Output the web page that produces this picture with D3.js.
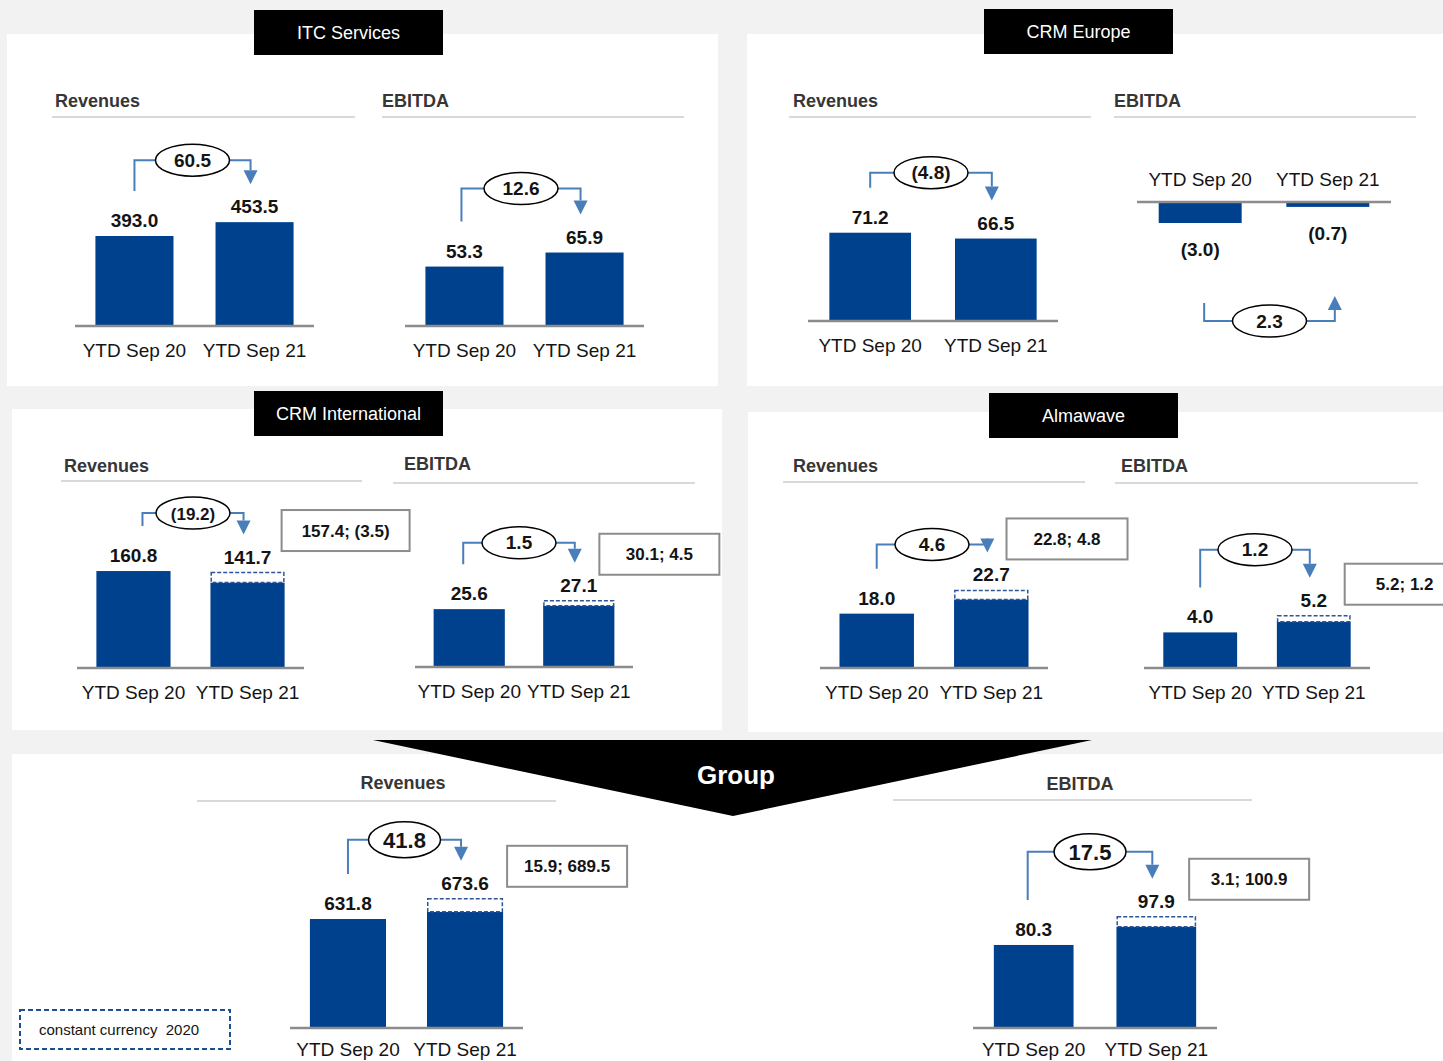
<!DOCTYPE html>
<html>
<head>
<meta charset="utf-8">
<script src="https://cdn.jsdelivr.net/npm/d3@7"></script>
<style>
  html, body { margin: 0; padding: 0; background: #f2f2f2; }
  svg { display: block; font-family: "Liberation Sans", Arial, sans-serif; }
</style>
</head>
<body>
<svg id="chart" width="1443" height="1061"></svg>
<script>
// ---- data ----
const periods = ["YTD Sep 20", "YTD Sep 21"];
const metrics = ["Revenues", "EBITDA"];
const segments = ["ITC Services", "CRM Europe", "CRM International", "Almawave"];
const segmentRevenues = [[393.0, 453.5], [71.2, 66.5], [160.8, 141.7], [18.0, 22.7]];
const segmentEbitda = [[53.3, 65.9], [-3.0, -0.7], [25.6, 27.1], [4.0, 5.2]];
const revenueChange = [60.5, -4.8, -19.2, 4.6];
const ebitdaChange = [12.6, 2.3, 1.5, 1.2];
const revenueConstCurrency = [null, null, [157.4, -3.5], [22.8, 4.8]];
const ebitdaConstCurrency = [null, null, [30.1, 4.5], [5.2, 1.2]];
const groupTitle = "Group";
const groupRevenues = [631.8, 673.6];
const groupEbitda = [80.3, 97.9];
const groupChange = [41.8, 17.5];
const groupConstCurrency = [[15.9, 689.5], [3.1, 100.9]];
const legendLabel = "constant currency  2020";

// ---- layout ----
const W = 1443, H = 1061;
const C = {
  bg: "#f2f2f2", bar: "#00418d", link: "#4a7ebb", axis: "#8c8c8c",
  rule: "#d9d9d9", text: "#141414", head: "#363636", hat: "#2f5597", box: "#8c8c8c"
};
const panels = [
  { x: 7, y: 34, w: 711, h: 352, tab: { x: 254, y: 10, w: 189, h: 45 } },
  { x: 747, y: 34, w: 696, h: 352, tab: { x: 984, y: 9, w: 189, h: 45 } },
  { x: 12, y: 409, w: 710, h: 321, tab: { x: 254, y: 391, w: 189, h: 45 } },
  { x: 748, y: 412, w: 695, h: 320, tab: { x: 989, y: 393, w: 189, h: 45 } }
];
const groupPanel = { x: 12, y: 754, w: 1431, h: 307 };
const groupBanner = { x0: 373, x1: 1092, y: 740, tipX: 733, tipY: 816 };

const layouts = [
  // ITC Services
  { head: { x: 55, y: 107, x0: 52, x1: 355, ry: 117 }, axis: [75, 314, 326], k: 0.229, lift: 62 },
  { head: { x: 382, y: 107, x0: 382, x1: 684, ry: 117 }, axis: [405, 644, 326], k: 1.115, lift: 64, dxL: -3 },
  // CRM Europe
  { head: { x: 793, y: 107, x0: 789, x1: 1091, ry: 117 }, axis: [808, 1058, 321], k: 1.24, lift: 60 },
  { head: { x: 1114, y: 107, x0: 1114, x1: 1416, ry: 117 }, axis: [1137, 1391, 202], k: 7, lift: 98, below: true, dxL: 4 },
  // CRM International
  { head: { x: 64, y: 472, x0: 61, x1: 362, ry: 481 }, axis: [77, 304, 668], k: 0.603, lift: 58, hat: 10,
    dxL: 9, box: { dx: -3, dy: -3, w: 128 } },
  { head: { x: 404, y: 470, x0: 393, x1: 695, ry: 483 }, axis: [415, 633, 667], k: 2.26, lift: 58, hat: 5,
    dxL: -6, box: { dx: -15, dy: -9, w: 120 } },
  // Almawave
  { head: { x: 793, y: 472, x0: 783, x1: 1085, ry: 482 }, axis: [820, 1048, 668], k: 3.02, lift: 46, hat: 9,
    box: { dx: -22, dy: -26, w: 121 } },
  { head: { x: 1121, y: 472, x0: 1115, x1: 1418, ry: 483 }, axis: [1144, 1370, 668], k: 8.9, lift: 66, hat: 6,
    box: { dx: -6, dy: 14, w: 120 } },
  // Group
  { head: { x: 403, y: 789, x0: 197, x1: 556, ry: 801, center: true }, axis: [290, 523, 1028], k: 0.1725, lift: 59,
    hat: 13, box: { dx: 4, dy: 6, w: 120 }, big: true, labelGap: 28 },
  { head: { x: 1080, y: 790, x0: 893, x1: 1252, ry: 800, center: true }, axis: [973, 1217, 1028], k: 1.034, lift: 65,
    hat: 10, dxL: -6, box: { dx: -7, dy: 7, w: 120 }, big: true, labelGap: 28 }
];

// ---- chart list built from the data arrays ----
const charts = [];
segments.forEach((s, i) => {
  charts.push({ title: metrics[0], values: segmentRevenues[i], change: revenueChange[i], note: revenueConstCurrency[i] });
  charts.push({ title: metrics[1], values: segmentEbitda[i], change: ebitdaChange[i], note: ebitdaConstCurrency[i] });
});
charts.push({ title: metrics[0], values: groupRevenues, change: groupChange[0], note: groupConstCurrency[0] });
charts.push({ title: metrics[1], values: groupEbitda, change: groupChange[1], note: groupConstCurrency[1] });

const fmt1 = d3.format(".1f");
const fmt = v => v < 0 ? `(${fmt1(-v)})` : fmt1(v);

const svg = d3.select("#chart");
svg.append("rect").attr("width", W).attr("height", H).attr("fill", C.bg);

// white panels
panels.forEach(p => {
  svg.append("rect").attr("x", p.x).attr("y", p.y).attr("width", p.w).attr("height", p.h).attr("fill", "#fff");
});
svg.append("rect").attr("x", groupPanel.x).attr("y", groupPanel.y)
  .attr("width", groupPanel.w).attr("height", groupPanel.h).attr("fill", "#fff");

// segment tabs
panels.forEach((p, i) => {
  const t = p.tab;
  svg.append("rect").attr("x", t.x).attr("y", t.y).attr("width", t.w).attr("height", t.h).attr("fill", "#000");
  svg.append("text").attr("x", t.x + t.w / 2).attr("y", t.y + t.h / 2 + 6.5)
    .attr("text-anchor", "middle").attr("font-size", 18).attr("fill", "#fff").text(segments[i]);
});

// group banner
svg.append("polygon")
  .attr("points", [[groupBanner.x0, groupBanner.y], [groupBanner.x1, groupBanner.y], [groupBanner.tipX, groupBanner.tipY]]
    .map(p => p.join(",")).join(" "))
  .attr("fill", "#000");
svg.append("text").attr("x", 736).attr("y", 784).attr("text-anchor", "middle")
  .attr("font-size", 26).attr("font-weight", "bold").attr("fill", "#fff").text(groupTitle);

function drawChart(d, L) {
  const g = svg.append("g");
  const [ax0, ax1, base] = L.axis;
  const below = !!L.below;
  const hat = L.hat || 0;

  // header + rule
  g.append("text").attr("x", L.head.x).attr("y", L.head.y)
    .attr("text-anchor", L.head.center ? "middle" : "start")
    .attr("font-size", 18).attr("font-weight", "bold").attr("fill", C.head).text(d.title);
  g.append("line").attr("x1", L.head.x0).attr("x2", L.head.x1)
    .attr("y1", L.head.ry).attr("y2", L.head.ry).attr("stroke", C.rule).attr("stroke-width", 2);

  const x = d3.scaleBand().domain(periods).range([ax0, ax1]).paddingInner(0.35).paddingOuter(0.17);
  const m = d3.max(d.values, v => Math.abs(v));
  const y = d3.scaleLinear().domain([0, m]).range([base, base - L.k * m]);
  const bw = x.bandwidth();
  const cx = i => x(periods[i]) + bw / 2;

  // bars
  g.selectAll("rect.bar").data(d.values).join("rect").attr("class", "bar")
    .attr("x", (v, i) => x(periods[i])).attr("width", bw)
    .attr("y", v => Math.min(y(v), y(0)))
    .attr("height", v => Math.abs(y(v) - y(0)))
    .attr("fill", C.bar);

  // constant-currency cap on the current period bar
  if (hat) {
    g.append("rect").attr("x", x(periods[1]) + 0.75).attr("y", y(d.values[1]) - hat)
      .attr("width", bw - 1.5).attr("height", hat)
      .attr("fill", "#fff").attr("stroke", C.hat).attr("stroke-width", 1.5).attr("stroke-dasharray", "4,2");
  }

  // baseline
  g.append("line").attr("x1", ax0).attr("x2", ax1).attr("y1", base).attr("y2", base)
    .attr("stroke", C.axis).attr("stroke-width", 2.5);

  // period labels
  g.selectAll("text.period").data(periods).join("text").attr("class", "period")
    .attr("x", (p, i) => cx(i)).attr("y", below ? base - 16 : base + (L.labelGap || 31))
    .attr("text-anchor", "middle").attr("font-size", 19).attr("fill", C.text).text(p => p);

  // value labels
  const ends = d.values.map((v, i) => below ? y(v) : y(v) - (i === 1 ? hat : 0));
  g.selectAll("text.value").data(d.values).join("text").attr("class", "value")
    .attr("x", (v, i) => cx(i)).attr("y", (v, i) => below ? ends[i] + 33 : ends[i] - 9)
    .attr("text-anchor", "middle").attr("font-size", 19).attr("font-weight", "bold")
    .attr("fill", C.text).text(v => fmt(v));

  // change connector with ellipse
  const rx = L.big ? 36 : 37, ry = L.big ? 18 : 16;
  const x1 = cx(0) + (L.dxL || 0), x2 = cx(1) + (below ? 7 : -4);
  const ex = (x1 + x2) / 2;
  let lineY, startY, tipY, dir;
  if (below) {
    lineY = d3.max(ends) + L.lift;
    startY = lineY - 18;
    tipY = lineY - 25;
    dir = -1;
  } else {
    lineY = d3.min(ends) - L.lift;
    startY = ends[0] - 45;
    tipY = ends[1] - 38;
    dir = 1;
  }
  const ah = 14;
  const path = d3.path();
  path.moveTo(x1, startY); path.lineTo(x1, lineY); path.lineTo(ex - rx, lineY);
  path.moveTo(ex + rx, lineY); path.lineTo(x2, lineY); path.lineTo(x2, tipY - dir * ah);
  g.append("path").attr("d", path.toString()).attr("fill", "none")
    .attr("stroke", C.link).attr("stroke-width", 2);
  g.append("polygon")
    .attr("points", [[x2 - 7, tipY - dir * ah], [x2 + 7, tipY - dir * ah], [x2, tipY]].map(p => p.join(",")).join(" "))
    .attr("fill", C.link);
  g.append("ellipse").attr("cx", ex).attr("cy", lineY).attr("rx", rx).attr("ry", ry)
    .attr("fill", "#fff").attr("stroke", "#000").attr("stroke-width", 1.5);
  const changeText = fmt(d.change);
  g.append("text").attr("x", ex).attr("y", lineY + (L.big ? 8 : 6.5)).attr("text-anchor", "middle")
    .attr("font-size", L.big ? 22 : (changeText.length > 5 ? 17 : 19))
    .attr("font-weight", "bold").attr("fill", C.text).text(changeText);

  // constant-currency note box
  if (d.note && L.box) {
    const bx = x(periods[1]) + bw + L.box.dx, by = lineY + L.box.dy, bwid = L.box.w, bh = 41;
    g.append("rect").attr("x", bx).attr("y", by).attr("width", bwid).attr("height", bh)
      .attr("fill", "#fff").attr("stroke", C.box).attr("stroke-width", 2);
    g.append("text").attr("x", bx + bwid / 2).attr("y", by + bh / 2 + 6).attr("text-anchor", "middle")
      .attr("font-size", 17).attr("font-weight", "bold").attr("fill", C.text)
      .text(d.note.map(fmt).join("; "));
  }
}

charts.forEach((d, i) => drawChart(d, layouts[i]));

// legend
svg.append("rect").attr("x", 20).attr("y", 1010).attr("width", 210).attr("height", 39)
  .attr("fill", "#fff").attr("stroke", "#1f4e99").attr("stroke-width", 2).attr("stroke-dasharray", "5,3");
svg.append("text").attr("x", 39).attr("y", 1035).attr("font-size", 15).attr("fill", C.text)
  .style("white-space", "pre").text(legendLabel);
</script>
</body>
</html>
